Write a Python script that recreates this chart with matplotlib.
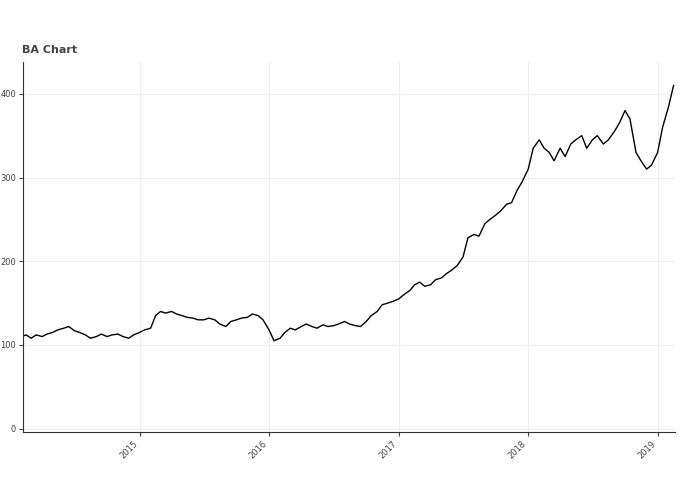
import pandas as pd
import matplotlib.pyplot as plt
import matplotlib.dates as mdates

dates = pd.date_range('2014-02-01', '2019-02-28', freq='SMS')
closes = [
    110, 112, 108, 112, 110, 113, 115, 118, 120, 122, 117,
    115, 112, 108, 110, 113, 110, 112, 113, 110, 108, 112,
    115, 118, 120, 135, 140, 138, 140, 137, 135, 133, 132, 130,
    130, 132, 130, 125, 122, 128, 130, 132, 133, 137, 135, 130,
    118, 105, 108, 115, 120, 118, 122, 125, 122, 120, 124, 122,
    123, 125, 128, 125, 123, 122, 128, 135, 140, 148, 150, 152,
    155, 160, 165, 172, 175, 170, 172, 178, 180, 185, 190, 195,
    205, 228, 232, 230, 245, 250, 255, 260, 268, 270, 285, 295,
    310, 335, 345, 335, 330, 320, 335, 325, 340, 345, 350, 335,
    345, 350, 340, 345, 355, 365, 380, 370, 330, 320, 310, 315,
    330, 360, 385, 410,
]
closes = closes[:len(dates)]

fig = plt.figure(figsize=(6.95, 4.94), dpi=100)
ax = fig.add_axes([23/695, 62/494, 652/695, 370/494])
ax.plot(dates, closes, color='black', linewidth=1.0)

ax.set_xlim(pd.Timestamp('2014-02-06'), pd.Timestamp('2019-02-19'))
ax.set_ylim(-4, 438)
ax.set_yticks([0, 100, 200, 300, 400])
ax.xaxis.set_major_locator(mdates.YearLocator())
ax.xaxis.set_major_formatter(mdates.DateFormatter('%Y'))
ax.tick_params(labelsize=6, colors='#444444', length=3, pad=2)
for lbl in ax.get_xticklabels():
    lbl.set_rotation(45)
    lbl.set_ha('right')
ax.grid(True, color='#eeeeee', linewidth=0.8)
for s in ['top', 'right']:
    ax.spines[s].set_visible(False)
for s in ['left', 'bottom']:
    ax.spines[s].set_color('#333333')
fig.text(22/695, 1 - 50/494, 'BA Chart', fontsize=8, fontweight='bold', color='#444444', va='center')

plt.savefig('out.png', dpi=100)
